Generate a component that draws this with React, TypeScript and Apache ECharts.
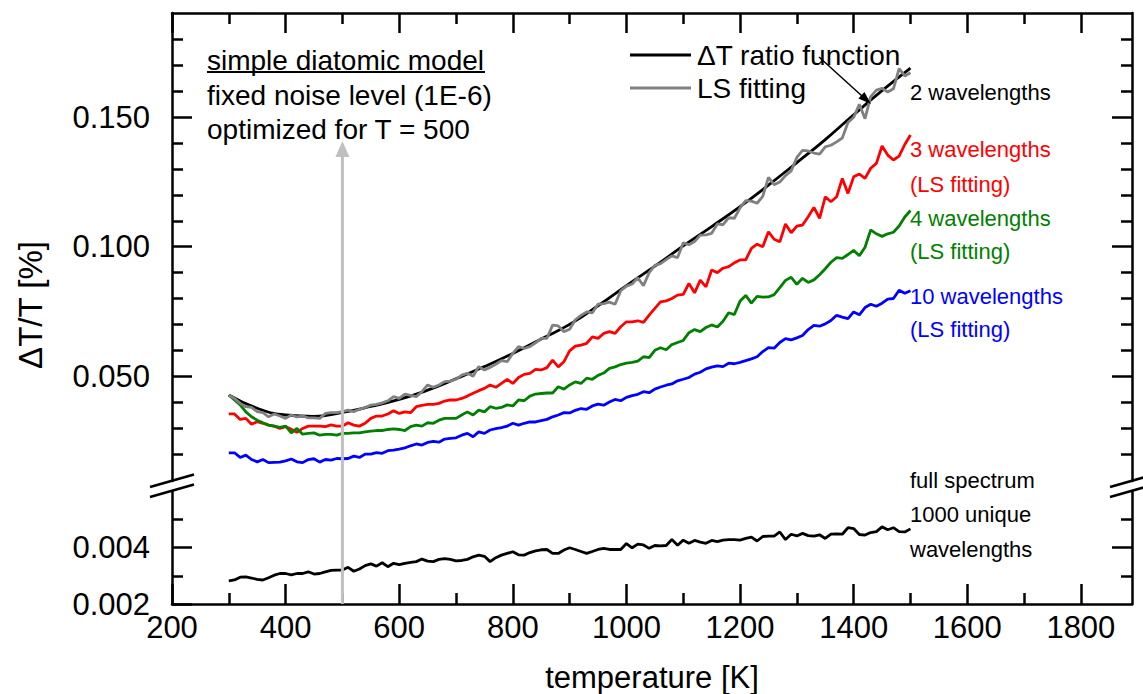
import React, { useEffect, useRef } from "react";
import * as echarts from "echarts";

// ---------- data ----------
const T_START = 300;
const T_STEP = 10;
const COARSE_STEP = 50;
const MODEL_T = 500;

// smooth "ΔT ratio function" (2 wavelengths), every 50 K from 300 K
const ratioFunction = [
  0.0427, 0.0376, 0.035, 0.0345, 0.036, 0.0383, 0.041, 0.0446, 0.049, 0.0537,
  0.0588, 0.0644, 0.07, 0.0772, 0.085, 0.0925, 0.1003, 0.1078, 0.1155, 0.1238,
  0.1325, 0.1414, 0.151, 0.1603, 0.169,
];

// LS fitting, 2 wavelengths (grey), every 10 K from 300 K
const lsFit2 = [
  0.0427, 0.0414, 0.0395, 0.0382, 0.0379, 0.0363, 0.0359, 0.0343, 0.0354, 0.0346,
  0.0337, 0.035, 0.0343, 0.0346, 0.0339, 0.0339, 0.0337, 0.0356, 0.0359, 0.0359,
  0.0363, 0.0369, 0.0363, 0.0372, 0.0379, 0.0388, 0.0391, 0.0397, 0.0405, 0.0421,
  0.0414, 0.0431, 0.0426, 0.0421, 0.044, 0.0466, 0.0457, 0.0466, 0.0479, 0.0481,
  0.0488, 0.0504, 0.0511, 0.05, 0.0537, 0.0524, 0.0534, 0.0546, 0.056, 0.0556,
  0.0588, 0.0614, 0.0607, 0.0614, 0.0629, 0.0646, 0.0646, 0.0697, 0.0694, 0.0672,
  0.0681, 0.0718, 0.0735, 0.0748, 0.0745, 0.0778, 0.078, 0.0786, 0.0778, 0.083,
  0.0848, 0.0856, 0.088, 0.085, 0.09, 0.0928, 0.0935, 0.095, 0.0965, 0.0958,
  0.1015, 0.1008, 0.102, 0.1045, 0.1046, 0.1052, 0.1088, 0.1085, 0.1112, 0.111,
  0.115, 0.1178, 0.1176, 0.1168, 0.1195, 0.1268, 0.124, 0.125, 0.1275, 0.1293,
  0.1345, 0.1372, 0.137, 0.1362, 0.1358, 0.1386, 0.1392, 0.1405, 0.142, 0.148,
  0.15, 0.155, 0.1495, 0.158, 0.1605, 0.1612, 0.1598, 0.161, 0.1688, 0.166,
  0.1672,
];

// 3 wavelengths (LS fitting), red
const lsFit3 = [
  0.0354, 0.0354, 0.0333, 0.0337, 0.0314, 0.0324, 0.0318, 0.0311, 0.0307, 0.0298,
  0.0305, 0.0295, 0.0283, 0.0298, 0.0307, 0.0307, 0.0307, 0.0305, 0.0312, 0.0307,
  0.0307, 0.032, 0.0311, 0.0307, 0.0318, 0.0337, 0.0346, 0.0346, 0.0354, 0.0366,
  0.0356, 0.0362, 0.0359, 0.0382, 0.0387, 0.0391, 0.0391, 0.0395, 0.0404, 0.0408,
  0.0408, 0.0414, 0.0423, 0.0434, 0.0444, 0.0453, 0.0466, 0.0457, 0.0472, 0.0488,
  0.0472, 0.0495, 0.0507, 0.0511, 0.0526, 0.0524, 0.0533, 0.0562, 0.0536, 0.0556,
  0.0598, 0.0616, 0.062, 0.0627, 0.0652, 0.0646, 0.0665, 0.0672, 0.0665, 0.0691,
  0.071, 0.071, 0.0714, 0.0708, 0.0736, 0.0762, 0.0787, 0.0791, 0.08, 0.0813,
  0.0816, 0.0858, 0.0822, 0.0871, 0.0845, 0.091, 0.09, 0.0917, 0.0923, 0.0938,
  0.0949, 0.0949, 0.0994, 0.101, 0.1, 0.1058, 0.1029, 0.1019, 0.1088, 0.1054,
  0.108, 0.1084, 0.1116, 0.1152, 0.111, 0.1193, 0.1174, 0.1193, 0.1264, 0.1206,
  0.127, 0.1281, 0.1264, 0.1303, 0.1322, 0.1389, 0.1354, 0.1335, 0.135, 0.1395,
  0.1432,
];

// 4 wavelengths (LS fitting), green
const lsFit4 = [
  0.0427, 0.0408, 0.0389, 0.0362, 0.0343, 0.033, 0.032, 0.0311, 0.0307, 0.0302,
  0.0307, 0.0281, 0.0298, 0.0276, 0.0279, 0.0281, 0.0272, 0.0275, 0.0275, 0.0272,
  0.0279, 0.0279, 0.0281, 0.0281, 0.0285, 0.0288, 0.029, 0.029, 0.0294, 0.0296,
  0.0294, 0.029, 0.0305, 0.0311, 0.0307, 0.032, 0.0318, 0.033, 0.0337, 0.0337,
  0.0337, 0.035, 0.0362, 0.035, 0.0369, 0.0362, 0.0382, 0.0376, 0.0379, 0.0389,
  0.0385, 0.0408, 0.0405, 0.0423, 0.0431, 0.0433, 0.0435, 0.0435, 0.0459, 0.045,
  0.0466, 0.0478, 0.0472, 0.0492, 0.0488, 0.0503, 0.0512, 0.053, 0.0536, 0.0545,
  0.055, 0.0553, 0.0558, 0.0575, 0.0572, 0.06, 0.061, 0.0602, 0.0622, 0.063,
  0.0638, 0.0668, 0.068, 0.0672, 0.0688, 0.0698, 0.069, 0.0712, 0.0745, 0.0738,
  0.079, 0.0812, 0.0782, 0.0808, 0.0805, 0.0806, 0.0815, 0.0842, 0.087, 0.0882,
  0.0855, 0.0878, 0.0862, 0.0872, 0.0892, 0.0915, 0.094, 0.0958, 0.0955, 0.097,
  0.0986, 0.0965, 0.0998, 0.1065, 0.105, 0.104, 0.105, 0.1056, 0.108, 0.1115,
  0.114,
];

// 10 wavelengths (LS fitting), blue
const lsFit10 = [
  0.0204, 0.0204, 0.0186, 0.0195, 0.0178, 0.0169, 0.0178, 0.0166, 0.0167, 0.0168,
  0.0173, 0.018, 0.0169, 0.0166, 0.0178, 0.0181, 0.0168, 0.0178, 0.0176, 0.0182,
  0.0181, 0.0182, 0.0191, 0.0186, 0.0199, 0.0199, 0.0205, 0.0202, 0.0212, 0.0214,
  0.0218, 0.0223, 0.0231, 0.0238, 0.0234, 0.0244, 0.0248, 0.0245, 0.0257, 0.026,
  0.0262, 0.0272, 0.0279, 0.0266, 0.0285, 0.0279, 0.0292, 0.0297, 0.0301, 0.0307,
  0.0318, 0.0311, 0.0318, 0.0323, 0.0323, 0.0328, 0.0333, 0.0343, 0.035, 0.0359,
  0.0358, 0.0368, 0.0375, 0.0372, 0.0385, 0.0392, 0.0388, 0.04, 0.041, 0.0405,
  0.0418, 0.0425, 0.043, 0.044, 0.0436, 0.045, 0.0458, 0.0465, 0.047, 0.0482,
  0.0488, 0.0495, 0.0508, 0.0515, 0.0528, 0.0535, 0.054, 0.0537, 0.055, 0.0548,
  0.0553, 0.056, 0.0567, 0.0575, 0.0595, 0.061, 0.0608, 0.063, 0.0645, 0.064,
  0.0648, 0.0657, 0.068, 0.0696, 0.0693, 0.0702, 0.0715, 0.0735, 0.0728, 0.0722,
  0.0748, 0.0737, 0.0765, 0.0778, 0.077, 0.0782, 0.0798, 0.08, 0.0832, 0.082,
  0.083,
];

// full spectrum, 1000 unique wavelengths (black, lower panel)
const fullSpectrum = [
  0.00282, 0.00285, 0.00295, 0.00296, 0.00292, 0.00287, 0.00285, 0.00293, 0.00302, 0.00308,
  0.00308, 0.00303, 0.00308, 0.00308, 0.00314, 0.00306, 0.00308, 0.00314, 0.00319, 0.0032,
  0.0032, 0.0033, 0.00316, 0.00324, 0.00336, 0.00342, 0.00334, 0.00346, 0.00332, 0.00344,
  0.00339, 0.00344, 0.00347, 0.0035, 0.00359, 0.00352, 0.0035, 0.00358, 0.00361, 0.00358,
  0.00353, 0.00354, 0.00358, 0.00367, 0.00373, 0.00369, 0.0035, 0.00364, 0.00373, 0.00379,
  0.00385, 0.00374, 0.00373, 0.00382, 0.00388, 0.00392, 0.00393, 0.00379, 0.00379, 0.00391,
  0.00399, 0.00393, 0.00386, 0.00379, 0.00386, 0.00393, 0.00397, 0.00393, 0.00393, 0.00393,
  0.00414, 0.00399, 0.00412, 0.00409, 0.00397, 0.00407, 0.00406, 0.00407, 0.00428, 0.00408,
  0.00426, 0.00415, 0.00425, 0.00419, 0.00415, 0.00425, 0.00421, 0.00426, 0.00428, 0.00428,
  0.00426, 0.00432, 0.00437, 0.00423, 0.00439, 0.0044, 0.0044, 0.00455, 0.00428, 0.00447,
  0.00441, 0.0045, 0.00442, 0.0044, 0.00445, 0.00432, 0.00447, 0.00448, 0.00447, 0.0047,
  0.00467, 0.00446, 0.00444, 0.00453, 0.00456, 0.00473, 0.00463, 0.0047, 0.00456, 0.00455,
  0.00466,
];

// axes / ticks
const X_MIN = 200;
const X_MAX = 1890;
const xMajorTicks = [200, 400, 600, 800, 1000, 1200, 1400, 1600, 1800];
const xMinorTicks = [300, 500, 700, 900, 1100, 1300, 1500, 1700];
const TOP_Y_MIN = 0.0095;
const TOP_Y_MAX = 0.1903;
const topYMajor = [0.05, 0.1, 0.15];
const topYMinor = [0.02, 0.03, 0.04, 0.06, 0.07, 0.08, 0.09, 0.11, 0.12, 0.13, 0.14, 0.16, 0.17, 0.18];
const BOT_Y_MIN = 0.002;
const BOT_Y_MAX = 0.006;
const botYMajor = [0.002, 0.004];
const botYMinor = [0.003, 0.005];

// ---------- helpers ----------
const FONT = '"Liberation Sans", Arial, Helvetica, sans-serif';
const AXIS_W = 2.5;
const MAJOR_LEN = 20;
const MINOR_LEN = 11;

const toPairs = (vals: number[], start: number, step: number) =>
  vals.map((v, i) => [start + i * step, v]);

function xAxisDef(gridIndex: number, position: string, ticks: number[], len: number, showLine: boolean, labels: boolean) {
  return {
    type: "value",
    gridIndex,
    position,
    min: X_MIN,
    max: X_MAX,
    splitLine: { show: false },
    axisLine: { show: showLine, onZero: false, lineStyle: { color: "#000", width: AXIS_W } },
    axisTick: { show: true, inside: true, length: len, customValues: ticks, lineStyle: { color: "#000", width: AXIS_W } },
    axisLabel: labels
      ? {
          show: true,
          customValues: xMajorTicks,
          formatter: (v: number) => String(Math.round(v)),
          fontSize: 31,
          fontFamily: FONT,
          color: "#000",
          margin: 8,
        }
      : { show: false },
  };
}

function yAxisDef(gridIndex: number, position: string, min: number, max: number, ticks: number[], len: number, showLine: boolean, labels: number[] | null) {
  return {
    type: "value",
    gridIndex,
    position,
    min,
    max,
    splitLine: { show: false },
    axisLine: { show: showLine, onZero: false, lineStyle: { color: "#000", width: AXIS_W } },
    axisTick: { show: true, inside: true, length: len, customValues: ticks, lineStyle: { color: "#000", width: AXIS_W } },
    axisLabel: labels
      ? {
          show: true,
          customValues: labels,
          formatter: (v: number) => v.toFixed(3),
          fontSize: 31,
          fontFamily: FONT,
          color: "#000",
          margin: 22,
        }
      : { show: false },
  };
}

function txt(id: string, text: string, x: number, y: number, size: number, color: string, align = "left") {
  return {
    type: "text",
    id,
    x,
    y,
    z: 100,
    silent: true,
    style: { text, fill: color, font: `${size}px ${FONT}`, align, verticalAlign: "middle" },
  };
}

function ln(id: string, x1: number, y1: number, x2: number, y2: number, color: string, width: number) {
  return {
    type: "line",
    id,
    z: 100,
    silent: true,
    shape: { x1, y1, x2, y2 },
    style: { stroke: color, lineWidth: width },
  };
}

function buildGraphics(arrowX: number) {
  return [
    // axis titles
    {
      type: "text",
      id: "ytitle",
      x: 30,
      y: 305,
      rotation: Math.PI / 2,
      z: 100,
      silent: true,
      style: { text: "ΔT/T [%]", fill: "#000", font: `33px ${FONT}`, align: "center", verticalAlign: "middle" },
    },
    txt("xtitle", "temperature [K]", 652, 677, 31, "#000", "center"),
    // break marks
    ln("brkL1", 150, 487, 194, 474.5, "#000", 2.5),
    ln("brkL2", 150, 497, 194, 484.5, "#000", 2.5),
    ln("brkR1", 1110, 487, 1154, 474.5, "#000", 2.5),
    ln("brkR2", 1110, 497, 1154, 484.5, "#000", 2.5),
    // annotation block
    txt("a1", "simple diatomic model", 207, 60, 28, "#000"),
    ln("a1u", 207, 72, 485, 72, "#000", 2),
    txt("a2", "fixed noise level (1E-6)", 207, 95, 28, "#000"),
    txt("a3", "optimized for T = 500", 207, 129, 28, "#000"),
    // legend
    ln("lg1", 630, 55, 691, 55, "#000", 3),
    txt("lg1t", "ΔT ratio function", 697, 55, 28, "#000"),
    ln("lg2", 630, 88, 691, 88, "#808080", 3),
    txt("lg2t", "LS fitting", 697, 88, 28, "#000"),
    // arrow from legend to curve
    ln("arw", 819, 57, 862, 96, "#000", 1.5),
    {
      type: "polygon",
      id: "arwh",
      z: 100,
      silent: true,
      shape: { points: [[871, 104], [858.4, 98.6], [864.4, 92]] },
      style: { fill: "#000" },
    },
    // right-hand labels
    txt("r1", "2 wavelengths", 910, 92, 22, "#000"),
    txt("r2", "3 wavelengths", 910, 149, 22, "#ff0000"),
    txt("r3", "(LS fitting)", 910, 184, 22, "#ff0000"),
    txt("r4", "4 wavelengths", 910, 218, 22, "#008000"),
    txt("r5", "(LS fitting)", 910, 251, 22, "#008000"),
    txt("r6", "10 wavelengths", 910, 296, 22, "#0000ff"),
    txt("r7", "(LS fitting)", 910, 329, 22, "#0000ff"),
    txt("r8", "full spectrum", 910, 480, 22, "#000"),
    txt("r9", "1000 unique", 910, 514, 22, "#000"),
    txt("r10", "wavelengths", 910, 549, 22, "#000"),
    // grey vertical arrow at T = 500
    ln("garw", arrowX, 604, arrowX, 154, "#c0c0c0", 3),
    {
      type: "polygon",
      id: "garwh",
      z: 100,
      silent: true,
      shape: { points: [[arrowX, 141], [arrowX - 7, 157], [arrowX + 7, 157]] },
      style: { fill: "#c0c0c0" },
    },
  ];
}

function buildOption() {
  const lineS = (name: string, data: number[][], color: string, xIdx: number, yIdx: number, extra: any = {}) => ({
    type: "line",
    name,
    data,
    xAxisIndex: xIdx,
    yAxisIndex: yIdx,
    showSymbol: false,
    symbol: "none",
    silent: true,
    lineStyle: { color, width: 2.8 },
    itemStyle: { color },
    ...extra,
  });

  return {
    animation: false,
    backgroundColor: "#fff",
    textStyle: { fontFamily: FONT },
    grid: [
      { left: 172, top: 13, width: 960, height: 468 },
      { left: 172, top: 491, width: 960, height: 113 },
    ],
    xAxis: [
      xAxisDef(0, "top", xMajorTicks, MAJOR_LEN, true, false),
      xAxisDef(0, "top", xMinorTicks, MINOR_LEN, false, false),
      xAxisDef(1, "bottom", xMajorTicks, MAJOR_LEN, true, true),
      xAxisDef(1, "bottom", xMinorTicks, MINOR_LEN, false, false),
    ],
    yAxis: [
      yAxisDef(0, "left", TOP_Y_MIN, TOP_Y_MAX, topYMajor, MAJOR_LEN, true, topYMajor),
      yAxisDef(0, "left", TOP_Y_MIN, TOP_Y_MAX, topYMinor, MINOR_LEN, false, null),
      yAxisDef(0, "right", TOP_Y_MIN, TOP_Y_MAX, topYMajor, MAJOR_LEN, true, null),
      yAxisDef(0, "right", TOP_Y_MIN, TOP_Y_MAX, topYMinor, MINOR_LEN, false, null),
      yAxisDef(1, "left", BOT_Y_MIN, BOT_Y_MAX, botYMajor, MAJOR_LEN, true, botYMajor),
      yAxisDef(1, "left", BOT_Y_MIN, BOT_Y_MAX, botYMinor, MINOR_LEN, false, null),
      yAxisDef(1, "right", BOT_Y_MIN, BOT_Y_MAX, [0.004], MAJOR_LEN, true, null),
      yAxisDef(1, "right", BOT_Y_MIN, BOT_Y_MAX, botYMinor, MINOR_LEN, false, null),
    ],
    series: [
      lineS("3 wavelengths", toPairs(lsFit3, T_START, T_STEP), "#ff0000", 0, 0),
      lineS("4 wavelengths", toPairs(lsFit4, T_START, T_STEP), "#008000", 0, 0),
      lineS("10 wavelengths", toPairs(lsFit10, T_START, T_STEP), "#0000ff", 0, 0),
      lineS("ΔT ratio function", toPairs(ratioFunction, T_START, COARSE_STEP), "#000000", 0, 0, { smooth: 0.5 }),
      lineS("LS fitting", toPairs(lsFit2, T_START, T_STEP), "#808080", 0, 0),
      lineS("full spectrum", toPairs(fullSpectrum, T_START, T_STEP), "#000000", 2, 4),
    ],
    graphic: buildGraphics(342),
  };
}

export default function App() {
  const ref = useRef<HTMLDivElement>(null);
  useEffect(() => {
    if (!ref.current) return;
    const chart = echarts.init(ref.current, null, { renderer: "svg" });
    chart.setOption(buildOption() as any);
    const px = chart.convertToPixel({ xAxisIndex: 2 } as any, MODEL_T) as unknown as number;
    if (typeof px === "number" && isFinite(px)) {
      chart.setOption({ graphic: buildGraphics(px) } as any);
    }
    return () => chart.dispose();
  }, []);
  return (
    <div
      ref={ref}
      style={{ position: "fixed", left: 0, top: 0, width: 1143, height: 694, background: "#fff" }}
    />
  );
}
